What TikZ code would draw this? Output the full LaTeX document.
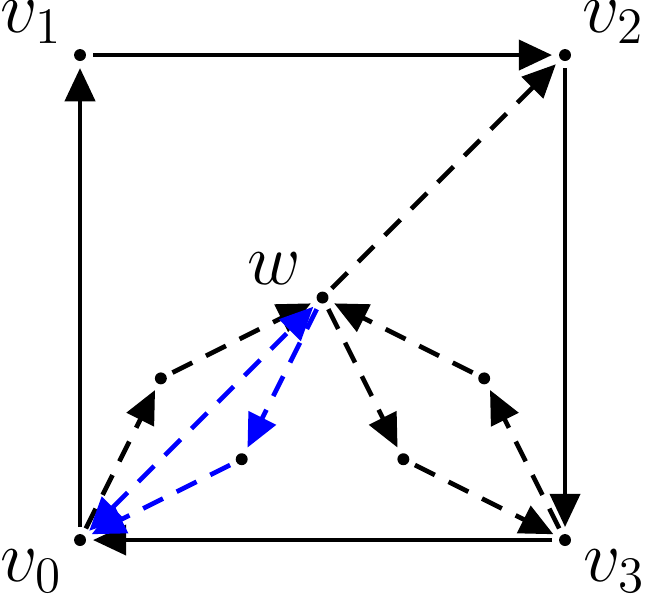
\documentclass[tikz,border=0pt]{standalone}
\usetikzlibrary{arrows.meta,calc}
\begin{document}
\begin{tikzpicture}[x=1cm,y=1cm,
  vert/.style={circle,minimum size=0.2cm,inner sep=0pt,
    path picture={\fill (path picture bounding box.center) circle (1.4pt);}},
  tip/.tip={Triangle[length=7.8pt,width=7pt]},
  edge/.style={line width=1.1pt,-tip},
  dedge/.style={edge,dash pattern=on 5.2pt off 3.6pt},
  bedge/.style={dedge,blue},
  lab/.style={inner sep=0pt,font=\LARGE}]
\useasboundingbox (-0.66,-0.47) rectangle (4.676,4.454);
\node[vert] (v0) at (0,0) {};
\node[vert] (v1) at (0,4) {};
\node[vert] (v2) at (4,4) {};
\node[vert] (v3) at (4,0) {};
\node[vert] (w) at (2,2) {};
\node[vert] (a) at (2/3,4/3) {};
\node[vert] (b) at (4/3,2/3) {};
\node[vert] (c) at (10/3,4/3) {};
\node[vert] (d) at (8/3,2/3) {};
\node[lab] (l0) at (-0.40,-0.26) {$v_0$};
\node[lab] (l1) at (-0.40,4.27) {$v_1$};
\node[lab] (l2) at (4.40,4.27) {$v_2$};
\node[lab] (l3) at (4.41,-0.26) {$v_3$};
\node[lab] (lw) at (1.6,2.24) {$w$};
\draw[edge] (v0) -- (v1);
\draw[edge] (v1) -- (v2);
\draw[edge] (v2) -- (v3);
\draw[edge] (v3) -- (v0);
\draw[dedge] (w) -- (v2);
\draw[dedge] (v0) -- (a);
\draw[dedge] (a) -- (w);
\draw[dedge] (v3) -- (c);
\draw[dedge] (c) -- (w);
\draw[dedge] (w) -- (d);
\draw[dedge] (d) -- (v3);
\draw[bedge,tip-tip] (v0) -- (w);
\draw[bedge] (w) -- (b);
\draw[bedge] (b) -- (v0);
\end{tikzpicture}
\end{document}
